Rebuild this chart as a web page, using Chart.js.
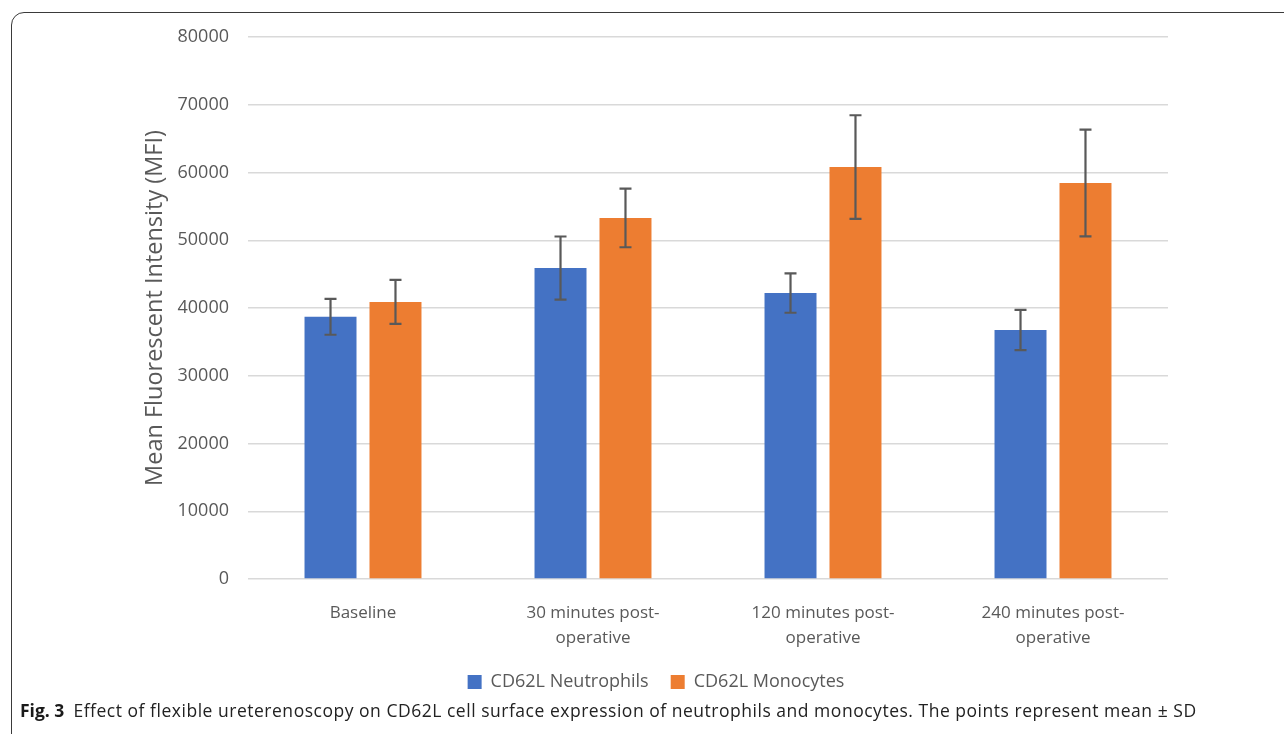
<!DOCTYPE html>
<html>
<head>
<meta charset="utf-8">
<script src="https://cdn.jsdelivr.net/npm/chart.js@4.4.1/dist/chart.umd.min.js"></script>
<style>
  html, body { margin: 0; padding: 0; background: #fff; overflow: hidden; }
  #wrap { position: relative; width: 1284px; height: 734px; }
  #frame {
    position: absolute; left: 11px; top: 12px; width: 1400px; height: 800px;
    border: 1.5px solid #3a3a3a; border-radius: 13px; box-sizing: border-box;
  }
  #c { position: absolute; left: 0; top: 0; }
  #caption {
    position: absolute; left: 20px; top: 700px; line-height: 20px;
    font-family: "Open Sans", sans-serif; font-size: 17.5px; letter-spacing: 0.52px;
    color: #222; white-space: nowrap;
  }
  #caption b { color: #1a1a1a; margin-right: 4px; letter-spacing: 0; }
</style>
</head>
<body>
<div id="wrap">
  <div id="frame"></div>
  <canvas id="c" width="1284" height="701"></canvas>
  <div id="caption"><b>Fig. 3</b> Effect of flexible ureterenoscopy on CD62L cell surface expression of neutrophils and monocytes. The points represent mean ± SD</div>
</div>
<script>
const categories = [
  ["Baseline"],
  ["30 minutes post-", "operative"],
  ["120 minutes post-", "operative"],
  ["240 minutes post-", "operative"]
];
const neutrophilMean = [38700, 45900, 42200, 36750];
const neutrophilSD = [2650, 4650, 2900, 2975];
const monocyteMean = [40900, 53300, 60800, 58450];
const monocyteSD = [3250, 4330, 7650, 7875];
const yTicks = [0, 10000, 20000, 30000, 40000, 50000, 60000, 70000, 80000];

const FONT = "'Open Sans', sans-serif";
const GREY = "#595959";

// error bars drawn on top of the bars, positions from the y scale
const errorBars = {
  id: "errorBars",
  afterLayout(chart) {
    // legend sits a little right of the plot centre in the original
    chart.legend.left += 7;
    chart.legend.right += 7;
  },
  afterDatasetsDraw(chart) {
    const ctx = chart.ctx;
    const y = chart.scales.y;
    chart.data.datasets.forEach((ds, i) => {
      const meta = chart.getDatasetMeta(i);
      meta.data.forEach((bar, j) => {
        const m = ds.data[j], sd = ds.sd[j];
        const top = y.getPixelForValue(m + sd);
        const bot = y.getPixelForValue(m - sd);
        ctx.save();
        ctx.strokeStyle = GREY;
        ctx.lineWidth = 2.2;
        ctx.beginPath();
        ctx.moveTo(bar.x, top); ctx.lineTo(bar.x, bot);
        ctx.moveTo(bar.x - 6, top); ctx.lineTo(bar.x + 6, top);
        ctx.moveTo(bar.x - 6, bot); ctx.lineTo(bar.x + 6, bot);
        ctx.stroke();
        ctx.restore();
      });
    });
  }
};

new Chart(document.getElementById("c"), {
  type: "bar",
  data: {
    labels: categories,
    datasets: [
      { label: "CD62L Neutrophils", data: neutrophilMean, sd: neutrophilSD, backgroundColor: "#4472C4" },
      { label: "CD62L Monocytes", data: monocyteMean, sd: monocyteSD, backgroundColor: "#ED7D31" }
    ]
  },
  options: {
    responsive: false,
    animation: false,
    devicePixelRatio: 1,
    categoryPercentage: 0.565,
    barPercentage: 0.8,
    layout: { padding: { left: 130, right: 116, top: 37, bottom: 0 } },
    plugins: {
      legend: {
        position: "bottom",
        labels: { font: { family: FONT, size: 18 }, color: GREY, boxWidth: 14, boxHeight: 14, padding: 22 }
      },
      tooltip: { enabled: false }
    },
    scales: {
      x: {
        grid: { display: false },
        border: { display: false },
        ticks: { font: { family: FONT, size: 17, lineHeight: 1.5 }, color: GREY, padding: 13, maxRotation: 0 },
        afterFit(s) { s.height = 72; }
      },
      y: {
        min: 0, max: 80000,
        afterBuildTicks(s) { s.ticks = yTicks.map(v => ({ value: v })); },
        grid: { color: "#d9d9d9", lineWidth: 1.5, drawTicks: false },
        border: { display: false },
        ticks: { font: { family: FONT, size: 18 }, color: GREY, padding: 19, callback: v => String(v) },
        title: { display: true, text: "Mean Fluorescent Intensity (MFI)", font: { family: FONT, size: 23.5 }, color: GREY, padding: { top: 11, bottom: 0 } },
        afterFit(s) { s.width = 118; }
      }
    }
  },
  plugins: [errorBars]
});
</script>
</body>
</html>
